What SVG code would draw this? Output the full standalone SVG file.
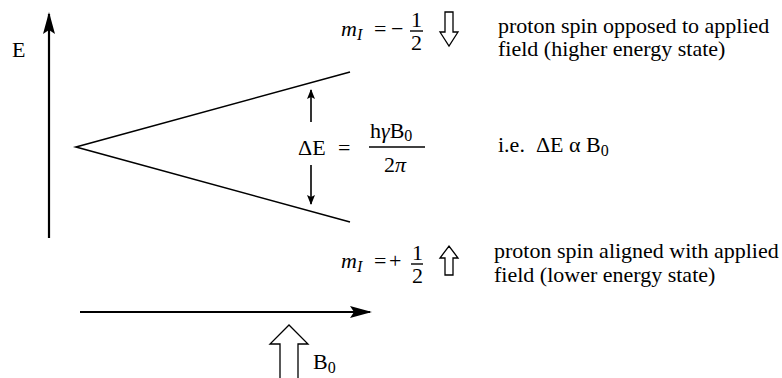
<svg xmlns="http://www.w3.org/2000/svg" width="782" height="378" viewBox="0 0 782 378">
<style>
text{font-family:"Liberation Serif","Times New Roman",serif;font-size:22px;fill:#000}
.it{font-style:italic}
.ax{stroke:#000;stroke-width:2.2;fill:none}
.ln{stroke:#000;stroke-width:1.6;fill:none}
.bar{stroke:#000;stroke-width:1.4}
.hol{stroke:#000;stroke-width:1.3;fill:#fff;stroke-linejoin:miter}
</style>
<defs>
<marker id="big" viewBox="0 0 22 12" refX="20" refY="6" markerWidth="22" markerHeight="12" markerUnits="userSpaceOnUse" orient="auto"><path d="M0,0 L22,6 L0,12 L4,6 Z" fill="#000"/></marker>
<marker id="sm" viewBox="0 0 10 8" refX="9" refY="4" markerWidth="10" markerHeight="8" markerUnits="userSpaceOnUse" orient="auto"><path d="M0,0 L10,4 L0,8 L2,4 Z" fill="#000"/></marker>
</defs>
<g id="connectors">
<line class="ax" x1="49" y1="238" x2="49" y2="14" marker-end="url(#big)"/>
<line class="ax" x1="80" y1="312" x2="370" y2="312" marker-end="url(#big)"/>
<polyline class="ln" points="350,72 76,147 350,222"/>
<line class="ln" x1="311" y1="122" x2="311" y2="90" marker-end="url(#sm)"/>
<line class="ln" x1="311" y1="165" x2="311" y2="204" marker-end="url(#sm)"/>
</g>
<g id="e-label"><text x="12" y="57">E</text></g>
<g id="upper-state">
<text class="it" x="341" y="36">m<tspan font-size="16" dy="4">I</tspan></text>
<text x="374" y="36">=</text>
<text x="391" y="36">−</text>
<text x="411" y="27">1</text>
<line class="bar" x1="410" y1="31" x2="423" y2="31"/>
<text x="411" y="50">2</text>
<path class="hol" d="M445,12 L453,12 L453,32 L458,32 L449,46 L440,32 L445,32 Z"/>
<text x="498" y="33">proton spin opposed to applied</text>
<text x="498" y="56">field (higher energy state)</text>
</g>
<g id="delta-e">
<text x="298" y="155">ΔE</text>
<text x="338" y="155">=</text>
<text x="370" y="138">h<tspan class="it">γ</tspan>B<tspan font-size="16" dy="3">0</tspan></text>
<line class="ln" x1="369" y1="147" x2="425" y2="147"/>
<text x="384" y="172">2<tspan class="it">π</tspan></text>
</g>
<g id="relation">
<text x="498" y="152" xml:space="preserve">i.e.  ΔE α B<tspan font-size="16" dy="4">0</tspan></text>
</g>
<g id="lower-state">
<text class="it" x="341" y="268">m<tspan font-size="16" dy="4">I</tspan></text>
<text x="374" y="268">=</text>
<text x="389" y="268">+</text>
<text x="412" y="260">1</text>
<line class="bar" x1="411" y1="264" x2="423" y2="264"/>
<text x="412" y="283">2</text>
<path class="hol" d="M445,275 L453,275 L453,258 L458,258 L449,246 L440,258 L445,258 Z"/>
<text x="494" y="258">proton spin aligned with applied</text>
<text x="494" y="282">field (lower energy state)</text>
</g>
<g id="b0-field">
<path class="hol" d="M280,380 L280,344 L270,344 L289,325 L308,344 L298,344 L298,380"/>
<text x="313" y="369">B<tspan font-size="16" dy="4">0</tspan></text>
</g>
</svg>
